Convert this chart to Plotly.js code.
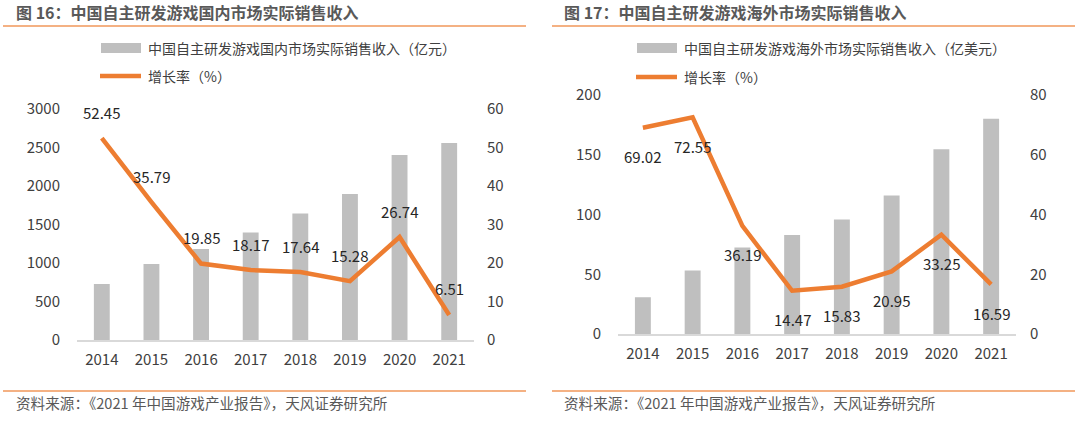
<!DOCTYPE html>
<html>
<head>
<meta charset="utf-8">
<script src="https://cdn.plot.ly/plotly-3.0.1.min.js"></script>
<style>html,body{margin:0;padding:0;background:#fff;}#chart{width:1080px;height:424px;}</style>
</head>
<body>
<div id="chart"></div>
<script>
// ---- data ----
const years = ['2014', '2015', '2016', '2017', '2018', '2019', '2020', '2021'];
const domesticRevenue = [726.6, 986.7, 1182.5, 1397.4, 1643.9, 1895.1, 2401.9, 2558.2];
const domesticGrowth = [52.45, 35.79, 19.85, 18.17, 17.64, 15.28, 26.74, 6.51];
const overseasRevenue = [30.76, 53.1, 72.35, 82.8, 95.9, 115.9, 154.5, 180.13];
const overseasGrowth = [69.02, 72.55, 36.19, 14.47, 15.83, 20.95, 33.25, 16.59];
const domesticRevTicks = [0, 500, 1000, 1500, 2000, 2500, 3000];
const domesticGrowthTicks = [0, 10, 20, 30, 40, 50, 60];
const overseasRevTicks = [0, 50, 100, 150, 200];
const overseasGrowthTicks = [0, 20, 40, 60, 80];
const title1 = '图 16：中国自主研发游戏国内市场实际销售收入';
const title2 = '图 17：中国自主研发游戏海外市场实际销售收入';
const barName1 = '中国自主研发游戏国内市场实际销售收入（亿元）';
const barName2 = '中国自主研发游戏海外市场实际销售收入（亿美元）';
const lineName = '增长率（%）';
const sourceText = '资料来源：《2021 年中国游戏产业报告》，天风证券研究所';

// ---- style ----
const W = 1080, H = 424;
const FONT = '"Noto Sans CJK SC", "Noto Sans", sans-serif';
const BAR = '#BFBFBF', LINE = '#ED7D31', RULE = '#F4B183';
const TXT = '#404040';
const px = x => x / W;
const py = y => 1 - y / H;

const traces = [
  {type: 'bar', x: years, y: domesticRevenue, xaxis: 'x', yaxis: 'y', marker: {color: BAR}},
  {type: 'scatter', mode: 'lines', x: years, y: domesticGrowth, xaxis: 'x', yaxis: 'y2', line: {color: LINE, width: 4.5}},
  {type: 'bar', x: years, y: overseasRevenue, xaxis: 'x2', yaxis: 'y3', marker: {color: BAR}},
  {type: 'scatter', mode: 'lines', x: years, y: overseasGrowth, xaxis: 'x2', yaxis: 'y4', line: {color: LINE, width: 4.5}}
];

const tickFont = {family: FONT, size: 15, color: TXT};
const xCommon = {type: 'category', range: [-0.5, years.length - 0.5], showline: true, linecolor: '#D9D9D9', linewidth: 1.5,
  showgrid: false, zeroline: false, ticks: 'outside', ticklen: 5, tickcolor: 'rgba(0,0,0,0)', tickfont: tickFont, fixedrange: true};
const yCommon = {showgrid: false, zeroline: false, showline: false, ticks: 'outside', tickcolor: 'rgba(0,0,0,0)', tickfont: tickFont, fixedrange: true};

const labelFont = {family: FONT, size: 15, color: '#262626'};
const annotations = [];
years.forEach((yr, i) => {
  annotations.push({x: i, y: domesticGrowth[i], xref: 'x', yref: 'y2', text: domesticGrowth[i].toFixed(2), showarrow: false,
    yshift: 26, font: labelFont});
  annotations.push({x: i, y: overseasGrowth[i], xref: 'x2', yref: 'y4', text: overseasGrowth[i].toFixed(2), showarrow: false,
    yshift: -29, font: labelFont});
});
// titles
annotations.push({xref: 'paper', yref: 'paper', x: px(14), y: py(12), xanchor: 'left', yanchor: 'middle', showarrow: false,
  text: '<b>' + title1 + '</b>', font: {family: FONT, size: 16, color: '#595959'}});
annotations.push({xref: 'paper', yref: 'paper', x: px(562), y: py(12), xanchor: 'left', yanchor: 'middle', showarrow: false,
  text: '<b>' + title2 + '</b>', font: {family: FONT, size: 16, color: '#595959'}});
// legends text
annotations.push({xref: 'paper', yref: 'paper', x: px(146), y: py(48), xanchor: 'left', yanchor: 'middle', showarrow: false,
  text: barName1, font: {family: FONT, size: 14, color: TXT}});
annotations.push({xref: 'paper', yref: 'paper', x: px(146), y: py(76), xanchor: 'left', yanchor: 'middle', showarrow: false,
  text: lineName, font: {family: FONT, size: 14, color: TXT}});
annotations.push({xref: 'paper', yref: 'paper', x: px(682), y: py(48), xanchor: 'left', yanchor: 'middle', showarrow: false,
  text: barName2, font: {family: FONT, size: 14, color: TXT}});
annotations.push({xref: 'paper', yref: 'paper', x: px(682), y: py(77), xanchor: 'left', yanchor: 'middle', showarrow: false,
  text: lineName, font: {family: FONT, size: 14, color: TXT}});
// sources
annotations.push({xref: 'paper', yref: 'paper', x: px(14), y: py(402), xanchor: 'left', yanchor: 'middle', showarrow: false,
  text: sourceText, font: {family: FONT, size: 14.6, color: '#595959'}});
annotations.push({xref: 'paper', yref: 'paper', x: px(562), y: py(402), xanchor: 'left', yanchor: 'middle', showarrow: false,
  text: sourceText, font: {family: FONT, size: 14.6, color: '#595959'}});

const shapes = [
  {type: 'line', xref: 'paper', yref: 'paper', x0: px(3), x1: px(526), y0: py(26), y1: py(26), line: {color: RULE, width: 2}},
  {type: 'line', xref: 'paper', yref: 'paper', x0: px(552), x1: px(1075), y0: py(26), y1: py(26), line: {color: RULE, width: 2}},
  {type: 'line', xref: 'paper', yref: 'paper', x0: px(3), x1: px(526), y0: py(391), y1: py(391), line: {color: RULE, width: 2}},
  {type: 'line', xref: 'paper', yref: 'paper', x0: px(552), x1: px(1075), y0: py(391), y1: py(391), line: {color: RULE, width: 2}},
  {type: 'rect', xref: 'paper', yref: 'paper', x0: px(101), x1: px(141), y0: py(43), y1: py(53), fillcolor: BAR, line: {width: 0}},
  {type: 'line', xref: 'paper', yref: 'paper', x0: px(100), x1: px(141), y0: py(76), y1: py(76), line: {color: LINE, width: 4.5}},
  {type: 'rect', xref: 'paper', yref: 'paper', x0: px(637), x1: px(677), y0: py(43), y1: py(53), fillcolor: BAR, line: {width: 0}},
  {type: 'line', xref: 'paper', yref: 'paper', x0: px(636), x1: px(677), y0: py(77), y1: py(77), line: {color: LINE, width: 4.5}}
];

const layout = {
  width: W, height: H,
  margin: {l: 0, r: 0, t: 0, b: 0},
  paper_bgcolor: '#fff', plot_bgcolor: '#fff',
  showlegend: false,
  bargap: 0.68,
  font: {family: FONT},
  xaxis: Object.assign({}, xCommon, {domain: [px(77), px(474)], anchor: 'y'}),
  yaxis: Object.assign({}, yCommon, {domain: [py(340), py(109)], range: [0, 3000], tickvals: domesticRevTicks, ticklen: 13, anchor: 'x'}),
  yaxis2: Object.assign({}, yCommon, {overlaying: 'y', side: 'right', anchor: 'x', range: [0, 60], tickvals: domesticGrowthTicks, ticklen: 9}),
  xaxis2: Object.assign({}, xCommon, {domain: [px(618), px(1016)], anchor: 'y3'}),
  yaxis3: Object.assign({}, yCommon, {domain: [py(334), py(95)], range: [0, 200], tickvals: overseasRevTicks, ticklen: 13, anchor: 'x2'}),
  yaxis4: Object.assign({}, yCommon, {overlaying: 'y3', side: 'right', anchor: 'x2', range: [0, 80], tickvals: overseasGrowthTicks, ticklen: 10}),
  annotations: annotations,
  shapes: shapes
};

Plotly.newPlot('chart', traces, layout, {staticPlot: true, displayModeBar: false});
</script>
</body>
</html>
